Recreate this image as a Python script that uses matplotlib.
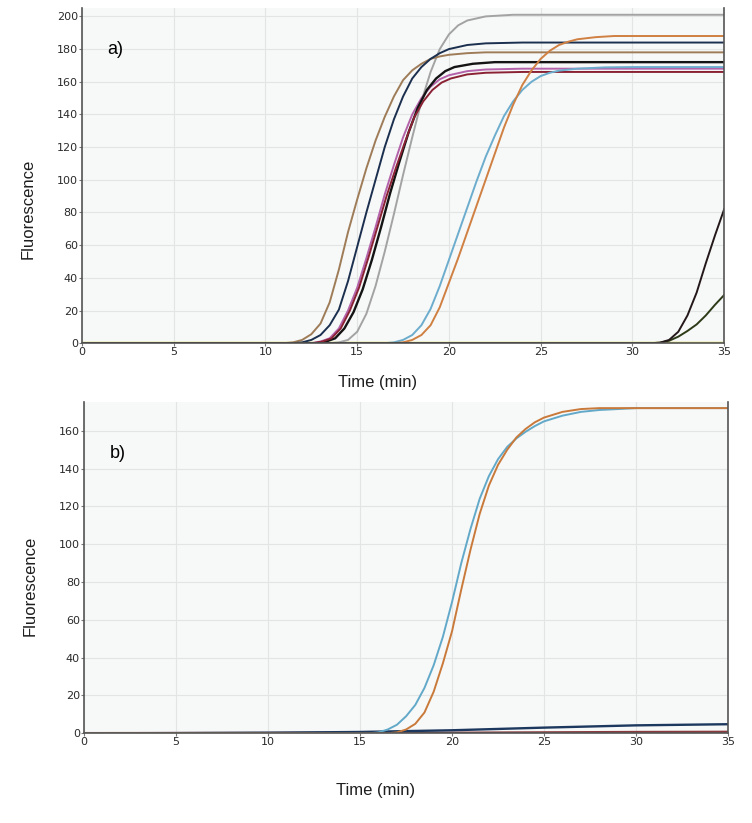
import matplotlib
matplotlib.use("Agg")
import matplotlib.pyplot as plt

# --- data (time in min, fluorescence) ---
# panel a)
tan_t = [0, 11.0, 11.5, 12.0, 12.5, 13.0, 13.5, 14.0, 14.5, 15.0, 15.5, 16.0, 16.5, 17.0, 17.5,
         18.0, 18.5, 19.0, 19.5, 20.0, 21.0, 22.0, 35]
tan_v = [0, 0, 0.5, 2, 5.5, 12, 25, 45, 68, 88, 107, 124, 138.5, 151, 161,
         167, 171, 174, 175.5, 176.5, 177.5, 178, 178]

navy_t = [0, 11.5, 12.0, 12.5, 13.0, 13.5, 14.0, 14.5, 15.0, 15.5, 16.0, 16.5, 17.0, 17.5,
          18.0, 18.5, 19.0, 19.5, 20.0, 21.0, 22.0, 24.0, 35]
navy_v = [0, 0, 0.5, 2, 5, 11, 20.5, 38, 59, 80, 100, 120, 137, 151,
          162, 169, 174, 177.5, 180, 182.5, 183.5, 184, 184]

magenta_t = [0, 12.5, 13.0, 13.5, 14.0, 14.5, 15.0, 15.5, 16.0, 16.5, 17.0, 17.5, 18.0, 18.5,
             19.0, 19.5, 20.0, 21.0, 22.0, 24.0, 35]
magenta_v = [0, 0, 1, 3, 9, 20, 34, 52, 71, 91, 109, 126, 140, 150,
             157, 161.5, 164, 166.5, 167.5, 168, 168]

red_t = [0, 12.6, 13.1, 13.6, 14.1, 14.6, 15.1, 15.6, 16.1, 16.6, 17.1, 17.6, 18.1, 18.6,
         19.1, 19.6, 20.1, 21.0, 22.0, 24.0, 35]
red_v = [0, 0, 1, 3, 9, 20, 34, 52, 71, 90, 107, 123, 138, 148,
         155, 159.5, 162, 164.5, 165.5, 166, 166]

black_t = [0, 12.8, 13.3, 13.8, 14.3, 14.8, 15.3, 15.8, 16.3, 16.8, 17.3, 17.8, 18.3, 18.8,
           19.3, 19.8, 20.3, 21.3, 22.5, 35]
black_v = [0, 0, 1, 3, 9, 19, 33, 51, 71, 92, 111, 129, 144, 155,
           162, 166.5, 169, 171, 172, 172]

gray_t = [0, 13.5, 14.0, 14.5, 15.0, 15.5, 16.0, 16.5, 17.0, 17.5, 18.0, 18.5, 19.0, 19.5,
          20.0, 20.5, 21.0, 22.0, 23.5, 35]
gray_v = [0, 0, 0.5, 2, 7, 18, 35, 56, 79, 103, 126, 148, 166, 180,
          189, 194.5, 197.5, 200, 201, 201]

lblue_t = [0, 16.5, 17.0, 17.5, 18.0, 18.5, 19.0, 19.5, 20.0, 20.5, 21.0, 21.5, 22.0, 22.5,
           23.0, 23.5, 24.0, 24.5, 25.0, 25.5, 26.0, 27.0, 28.5, 30.0, 35]
lblue_v = [0, 0, 0.5, 2, 5, 11, 21, 35, 51, 67, 83, 99, 114, 127,
           139, 148, 155, 160, 163.5, 165.5, 166.8, 168, 168.8, 169, 169]

orange_t = [0, 17.0, 17.5, 18.0, 18.5, 19.0, 19.5, 20.0, 20.5, 21.0, 21.5, 22.0, 22.5, 23.0,
            23.5, 24.0, 24.5, 25.0, 25.5, 26.0, 26.5, 27.0, 28.0, 29.0, 35]
orange_v = [0, 0, 0.5, 2, 5, 11, 22, 37, 52, 68, 84, 100, 116, 132,
            146, 158, 167, 174, 179, 182.5, 184.5, 186, 187.3, 188, 188]

late_black_t = [0, 31.0, 31.5, 32.0, 32.5, 33.0, 33.5, 34.0, 34.5, 35]
late_black_v = [0, 0, 0.3, 2, 7, 17, 31, 49, 66, 82]

olive_t = [0, 31.0, 31.5, 32.0, 32.5, 33.0, 33.5, 34.0, 34.5, 35]
olive_v = [0, 0, 0.3, 1.5, 4, 7.5, 11.5, 17, 23.5, 29.5]

yellow_t = [0, 35]
yellow_v = [0, 0]

# panel b)
b_lblue_t = [0, 15.5, 16.0, 16.5, 17.0, 17.5, 18.0, 18.5, 19.0, 19.5, 20.0, 20.5, 21.0, 21.5,
             22.0, 22.5, 23.0, 23.5, 24.0, 24.5, 25.0, 26.0, 27.0, 28.0, 30.0, 35]
b_lblue_v = [0, 0, 0.5, 2, 4.5, 9, 15, 24, 36, 51, 69.5, 90, 108, 124,
             136, 145, 151.5, 156, 159.5, 162.5, 165, 168, 170, 171, 172, 172]

b_orange_t = [0, 16.5, 17.0, 17.5, 18.0, 18.5, 19.0, 19.5, 20.0, 20.5, 21.0, 21.5, 22.0, 22.5,
              23.0, 23.5, 24.0, 24.5, 25.0, 26.0, 27.0, 28.0, 35]
b_orange_v = [0, 0, 0.5, 2, 5, 11, 22, 37, 54, 76, 97, 116, 131, 142,
              150, 156.5, 161, 164.5, 167, 170, 171.5, 172, 172]

b_navy_t = [0, 5, 10, 15, 20, 25, 30, 35]
b_navy_v = [0, 0.1, 0.3, 0.7, 1.6, 3.0, 4.2, 4.8]

b_red_t = [0, 20, 25, 30, 35]
b_red_v = [0, 0.2, 0.4, 0.6, 0.7]

x_ticks = [0, 5, 10, 15, 20, 25, 30, 35]
a_yticks = [0, 20, 40, 60, 80, 100, 120, 140, 160, 180, 200]
b_yticks = [0, 20, 40, 60, 80, 100, 120, 140, 160]

# --- setup ---
fig = plt.figure(figsize=(7.52, 8.23), dpi=100)
fig.patch.set_facecolor("white")

ax_a = fig.add_axes([0.109, 0.583, 0.854, 0.407])
ax_b = fig.add_axes([0.112, 0.109, 0.856, 0.402])

lw = 1.4

def style_axes(ax, yticks, ymax):
    ax.set_facecolor("#f7f8f8")
    ax.set_xlim(0, 35)
    ax.set_ylim(0, ymax)
    ax.set_xticks(x_ticks)
    ax.set_yticks(yticks)
    ax.grid(True, color="#e3e5e5", linewidth=0.8)
    ax.set_axisbelow(True)
    ax.spines["top"].set_visible(False)
    for side in ["left", "bottom", "right"]:
        ax.spines[side].set_color("#555555")
        ax.spines[side].set_linewidth(1.2)
    ax.tick_params(axis="both", length=2, width=0.8, color="#777777",
                   labelsize=8, labelcolor="#2a2a2a", pad=1)
    ax.set_xlabel("Time (min)", fontsize=12, family="Liberation Sans", color="#1e1e1e")
    ax.set_ylabel("Fluorescence", fontsize=12, family="Liberation Sans", color="#1e1e1e")

# panel a
ax_a.plot(yellow_t, yellow_v, color="#d9d64a", lw=lw + 0.4)
ax_a.plot(gray_t, gray_v, color="#a3a3a3", lw=lw)
ax_a.plot(tan_t, tan_v, color="#9e7c58", lw=lw)
ax_a.plot(navy_t, navy_v, color="#1b2f4f", lw=lw)
ax_a.plot(magenta_t, magenta_v, color="#b463aa", lw=lw)
ax_a.plot(black_t, black_v, color="#141414", lw=lw + 0.3)
ax_a.plot(red_t, red_v, color="#8a2234", lw=lw)
ax_a.plot(lblue_t, lblue_v, color="#6cadcd", lw=lw)
ax_a.plot(orange_t, orange_v, color="#cf8042", lw=lw)
ax_a.plot(olive_t, olive_v, color="#2d3a18", lw=lw)
ax_a.plot(late_black_t, late_black_v, color="#24181a", lw=lw)
style_axes(ax_a, a_yticks, 205)
ax_a.text(1.4, 180, "a)", fontsize=13, family="Liberation Sans", va="center")
ax_a.yaxis.set_label_coords(-0.072, 0.40)
ax_a.xaxis.set_label_coords(0.46, -0.095)

# panel b
ax_b.plot(b_red_t, b_red_v, color="#8a3a3c", lw=lw + 0.5)
ax_b.plot(b_navy_t, b_navy_v, color="#1d385e", lw=lw + 0.3)
ax_b.plot(b_lblue_t, b_lblue_v, color="#62a9c9", lw=lw)
ax_b.plot(b_orange_t, b_orange_v, color="#c97a3a", lw=lw)
style_axes(ax_b, b_yticks, 175)
ax_b.text(1.4, 148, "b)", fontsize=13, family="Liberation Sans", va="center")
ax_b.yaxis.set_label_coords(-0.072, 0.447)
ax_b.xaxis.set_label_coords(0.453, -0.15)

fig.savefig("out.png", dpi=100, facecolor="white")
